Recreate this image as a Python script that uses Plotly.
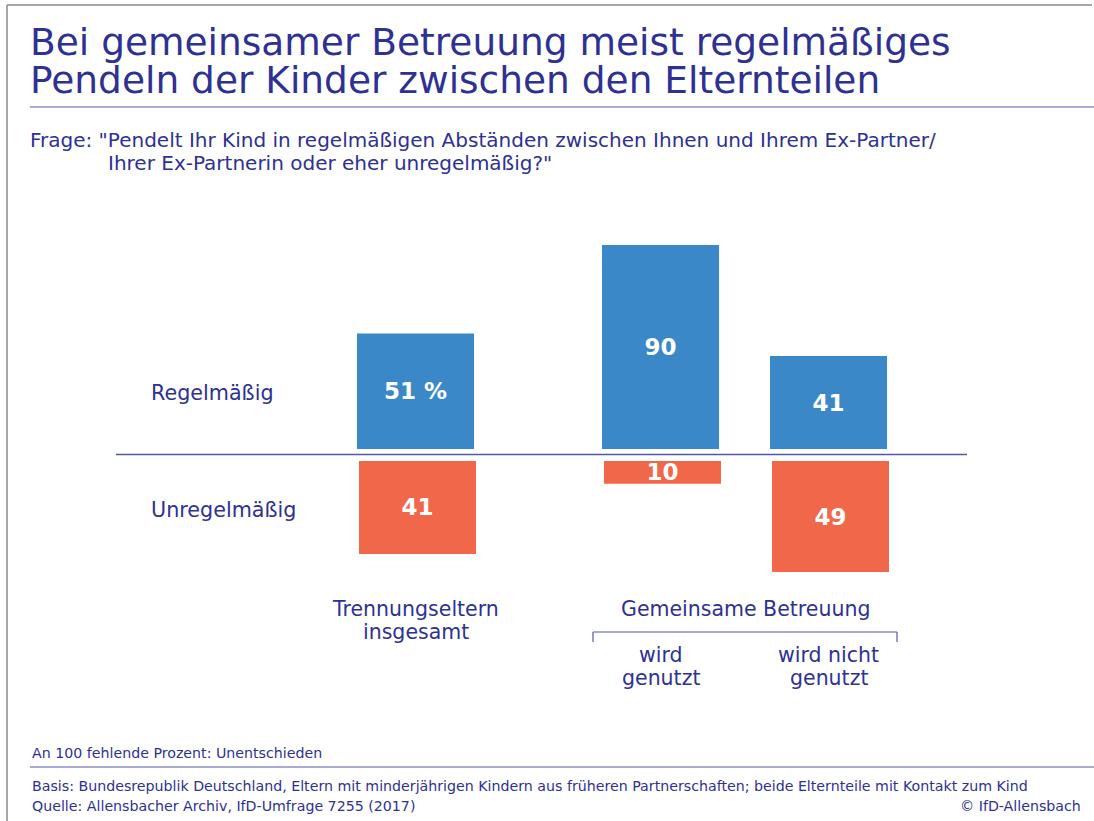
import plotly.graph_objects as go

# ---- data ----
groups = ["Trennungseltern insgesamt", "Gemeinsame Betreuung: wird genutzt",
          "Gemeinsame Betreuung: wird nicht genutzt"]
regelmaessig = [51, 90, 41]
unregelmaessig = [41, 10, 49]
row_labels = ["Regelmäßig", "Unregelmäßig"]
group_label_lines = [["Trennungseltern", "insgesamt"], ["wird", "genutzt"], ["wird nicht", "genutzt"]]
bracket_label = "Gemeinsame Betreuung"

title_lines = ["Bei gemeinsamer Betreuung meist regelmäßiges",
               "Pendeln der Kinder zwischen den Elternteilen"]
question_lines = ['Frage: "Pendelt Ihr Kind in regelmäßigen Abständen zwischen Ihnen und Ihrem Ex-Partner/',
                  'Ihrer Ex-Partnerin oder eher unregelmäßig?"']
note = "An 100 fehlende Prozent: Unentschieden"
basis = "Basis: Bundesrepublik Deutschland, Eltern mit minderjährigen Kindern aus früheren Partnerschaften; beide Elternteile mit Kontakt zum Kind"
quelle = "Quelle: Allensbacher Archiv, IfD-Umfrage 7255 (2017)"
copyright_txt = "© IfD-Allensbach"

# ---- style / layout ----
W, H = 1094, 821
x_pos = [415.5, 660.5, 828.5]      # bar centres (px)
label_y = [(609, 632), (655, 678), (655, 678)]
bar_w = 117
BLUE = "#3b88c8"
RED = "#f0674a"
NAVY = "#2e3192"
LINE = "#5457a8"
FONT = "DejaVu Sans"
LABEL_FONT = "DejaVu Sans"
px_per_unit = 2.267
top_base, bot_base = 449, 461


def py(p):
    return 1 - p / H


fig = go.Figure()
fig.add_trace(go.Bar(
    x=x_pos, y=regelmaessig, width=bar_w, marker=dict(color=BLUE, line=dict(width=0)),
    text=[f"{v} %" if i == 0 else str(v) for i, v in enumerate(regelmaessig)],
    textposition="inside", insidetextanchor="middle", textangle=0,
    textfont=dict(family=LABEL_FONT, size=23, color="white", weight="bold"),
    xaxis="x", yaxis="y", hoverinfo="skip", name=row_labels[0]))
fig.add_trace(go.Bar(
    x=[x + 2 for x in x_pos], y=unregelmaessig, width=bar_w, marker=dict(color=RED, line=dict(width=0)),
    text=[str(v) for v in unregelmaessig],
    textposition="inside", insidetextanchor="middle", textangle=0,
    textfont=dict(family=LABEL_FONT, size=23, color="white", weight="bold"),
    xaxis="x", yaxis="y2", hoverinfo="skip", name=row_labels[1]))

span = 100 * px_per_unit
fig.update_layout(
    width=W, height=H, margin=dict(l=0, r=0, t=0, b=0),
    paper_bgcolor="white", plot_bgcolor="rgba(0,0,0,0)", showlegend=False,
    uniformtext=dict(minsize=23, mode="show"),
    xaxis=dict(range=[0, W], domain=[0, 1], visible=False, fixedrange=True),
    yaxis=dict(range=[0, 100], domain=[py(top_base), py(top_base - span)], visible=False, anchor="x"),
    yaxis2=dict(range=[100, 0], domain=[py(bot_base + span), py(bot_base)], visible=False, anchor="x"),
    font=dict(family=FONT, color=NAVY),
)

ann = []


def add_text(x, y, text, size, xanchor="left", color=NAVY, align="left"):
    ann.append(dict(x=x, y=py(y), xref="x", yref="paper", text=text, showarrow=False,
                    xanchor=xanchor, yanchor="middle", align=align,
                    font=dict(family=FONT, size=size, color=color)))


add_text(28, 42, title_lines[0], 37.5)
add_text(28, 80, title_lines[1], 37.5)
add_text(28, 140, question_lines[0], 20)
add_text(106, 163, question_lines[1], 20)
add_text(149, 393, row_labels[0], 20.7)
add_text(149, 510, row_labels[1], 20.7)
for xc, lines, ys in zip(x_pos, group_label_lines, label_y):
    for line, yy in zip(lines, ys):
        add_text(xc, yy, line, 20.5, xanchor="center", align="center")
add_text(745, 609, bracket_label, 20.5, xanchor="center", align="center")
add_text(30, 753, note, 14.2)
add_text(30, 786, basis, 14.2)
add_text(30, 806, quelle, 14.2)
add_text(1083, 806, copyright_txt, 14.2, xanchor="right")
fig.update_layout(annotations=ann)


def hline(x0, x1, y, color, w=1):
    return dict(type="line", xref="x", yref="paper", x0=x0, x1=x1, y0=py(y), y1=py(y),
                line=dict(color=color, width=w))


def vline(x, y0, y1, color, w=1):
    return dict(type="line", xref="x", yref="paper", x0=x, x1=x, y0=py(y0), y1=py(y1),
                line=dict(color=color, width=w))


shapes = [
    hline(7, 1092, 5, "#8a8a8a", 1.5),
    vline(7, 5, H, "#8a8a8a", 1.5),
    hline(30, W, 107, LINE, 1.2),
    hline(116, 967, 454.5, LINE, 1.5),
    hline(30, W, 767, LINE, 1.2),
    hline(593, 897, 632, LINE, 1.2),
    vline(593, 632, 642, LINE, 1.2),
    vline(897, 632, 642, LINE, 1.2),
]
fig.update_layout(shapes=shapes)

fig.write_html("out.html", config=dict(displayModeBar=False, staticPlot=True),
               post_script="document.body.style.margin='0';document.body.style.overflow='hidden';")
